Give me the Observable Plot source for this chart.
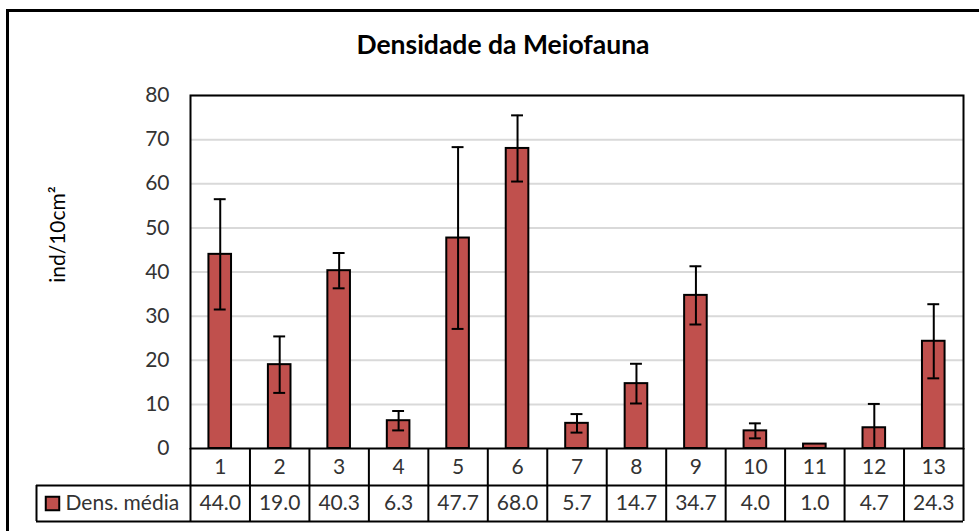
<!DOCTYPE html>
<html><head><meta charset="utf-8">
<script src="https://cdn.jsdelivr.net/npm/d3@7"></script>
<script src="https://cdn.jsdelivr.net/npm/@observablehq/plot@0.6"></script>
<style>
body{margin:0;background:#fff;}
#wrap{position:relative;width:979px;height:531px;overflow:hidden;font-family:Lato,sans-serif;background:#fff;}
#border{position:absolute;left:6px;top:9px;width:1000px;height:600px;border-left:3px solid #000;border-top:3px solid #000;}
#title{position:absolute;left:0;width:1006px;top:28px;text-align:center;font-weight:bold;font-size:26.5px;line-height:32px;color:#000;}
#chart{position:absolute;left:0;top:0;}
</style>
</head><body>
<div id="wrap"><div id="border"></div><div id="chart"></div><div id="title">Densidade da Meiofauna</div></div>
<script>
const categories = [1,2,3,4,5,6,7,8,9,10,11,12,13];
const means = [44.0,19.0,40.3,6.3,47.7,68.0,5.7,14.7,34.7,4.0,1.0,4.7,24.3];
const errors = [12.5,6.4,4.0,2.2,20.6,7.5,2.1,4.5,6.6,1.7,0,5.4,8.4];
const yTicks = [0,10,20,30,40,50,60,70,80];
const seriesName = "Dens. média";
const yLabel = "ind/10cm²";

const data = categories.map((c,i)=>({cat:c, mean:means[i], err:errors[i],
  lo:Math.max(0, means[i]-errors[i]), hi:means[i]+errors[i], loCap: means[i]-errors[i] >= 0}));
const withErr = data.filter(d=>d.err>0);

const W=979, H=531, mL=190, mR=16, mT=95, mB=83;
const pxPerUnit = (H-mB-mT)/80;
const pxPerCat = (W-mL-mR)/categories.length;
// table geometry (converted from pixels to scale units)
const row1 = -37/pxPerUnit, row2 = -73/pxPerUnit;
const legendLeft = 0.5 - (mL-36)/pxPerCat;
const bounds = d3.range(0.5, categories.length+1, 1);
const yLabelX = 0.5 - (mL-58)/pxPerCat;
const yLabelY = (H-mB-234)/pxPerUnit;

const chart = Plot.plot({
  width: W, height: H, marginLeft: mL, marginRight: mR, marginTop: mT, marginBottom: mB,
  style: {fontFamily: "Lato, sans-serif", fontSize: "21px", color: "#333", background: "transparent"},
  x: {type: "linear", domain: [0.5, categories.length+0.5], axis: null},
  y: {domain: [0, 80], axis: null},
  marks: [
    Plot.ruleY(yTicks.filter(t=>t>0), {stroke: "#d9d9d9", strokeWidth: 2}),
    Plot.rect(data, {x1: d=>d.cat-0.19, x2: d=>d.cat+0.19, y1: 0, y2: "mean", fill: "#C0504D", stroke: "#000", strokeWidth: 2}),
    Plot.ruleX(withErr, {x: "cat", y1: "lo", y2: "hi", stroke: "#000", strokeWidth: 2}),
    Plot.ruleY(withErr, {y: "hi", x1: d=>d.cat-0.1, x2: d=>d.cat+0.1, stroke: "#000", strokeWidth: 2}),
    Plot.ruleY(withErr.filter(d=>d.loCap), {y: "lo", x1: d=>d.cat-0.1, x2: d=>d.cat+0.1, stroke: "#000", strokeWidth: 2}),
    Plot.frame({stroke: "#000", strokeWidth: 2}),
    Plot.axisY(yTicks, {tickSize: 0, tickPadding: 21, fontSize: 21, label: null}),
    Plot.text([yLabel], {x: yLabelX, y: yLabelY, rotate: -90, fontSize: 21, fill: "#000"}),
    // data table
    Plot.ruleY([row1, row2], {y: d=>d, x1: legendLeft, x2: categories.length+0.5, stroke: "#000", strokeWidth: 2}),
    Plot.ruleX(bounds, {x: d=>d, y1: 0, y2: row2, stroke: "#000", strokeWidth: 2}),
    Plot.ruleX([legendLeft], {x: d=>d, y1: row1, y2: row2, stroke: "#000", strokeWidth: 2}),
    Plot.text(data, {x: "cat", y: row1/2, text: d=>String(d.cat), fontSize: 21}),
    Plot.text(data, {x: "cat", y: (row1+row2)/2, text: d=>d.mean.toFixed(1), fontSize: 21}),
    Plot.dot([seriesName], {x: legendLeft, y: (row1+row2)/2, dx: 16, symbol: "square", r: 7.6, fill: "#C0504D", stroke: "#000", strokeWidth: 2}),
    Plot.text([seriesName], {x: legendLeft, y: (row1+row2)/2, dx: 29, textAnchor: "start", fontSize: 21})
  ]
});
document.getElementById("chart").appendChild(chart);
</script>
</body></html>
